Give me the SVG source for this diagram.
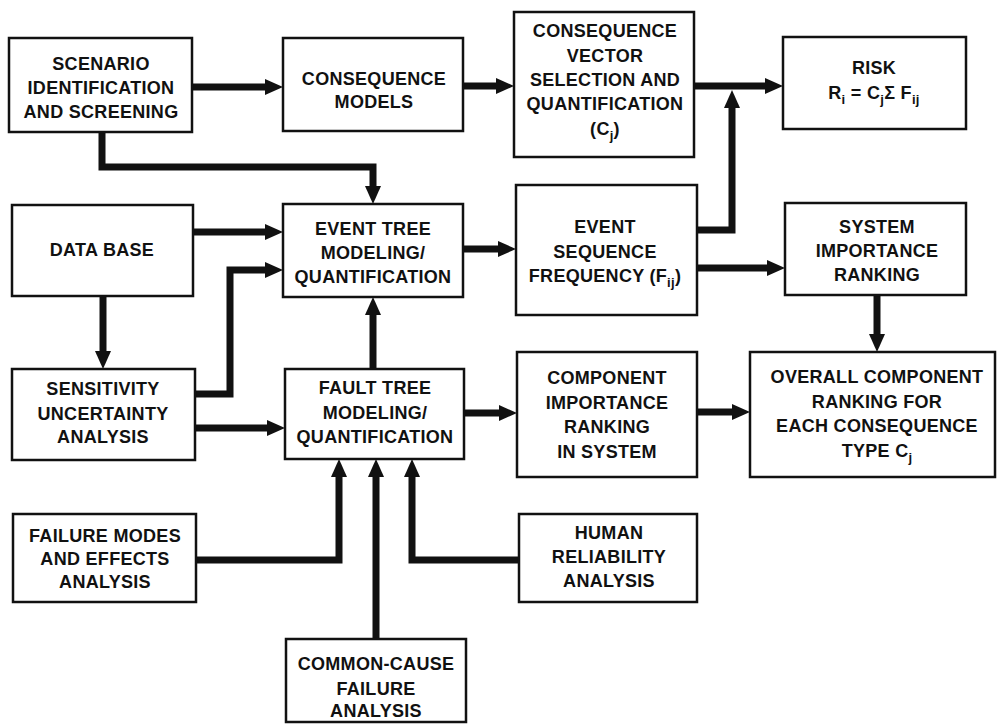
<svg xmlns="http://www.w3.org/2000/svg" width="997" height="724" viewBox="0 0 997 724">
<style>
.box{fill:#fff;stroke:#111;stroke-width:2.5}
.t{font-family:"Liberation Sans",Arial,sans-serif;font-weight:bold;font-size:18px;fill:#111;text-anchor:middle;letter-spacing:0.3px}
.sub{font-size:13px}
.c{fill:none;stroke:#111;stroke-width:7;stroke-linejoin:miter}
</style>
<defs>
<marker id="ah" markerUnits="userSpaceOnUse" markerWidth="20" markerHeight="18" refX="8" refY="8" orient="auto">
<path d="M0,0 L18,8 L0,16 Z" fill="#111"/>
</marker>
</defs>
<rect width="997" height="724" fill="#fff"/>
<g id="connectors">
<polyline class="c" points="192,87 273,87" marker-end="url(#ah)"/>
<polyline class="c" points="463,86 504,86" marker-end="url(#ah)"/>
<polyline class="c" points="694,86 773,86" marker-end="url(#ah)"/>
<polyline class="c" points="697,230 732,230 732,100" marker-end="url(#ah)"/>
<polyline class="c" points="102,132 102,167 373,167 373,194" marker-end="url(#ah)"/>
<polyline class="c" points="193,232 273,232" marker-end="url(#ah)"/>
<polyline class="c" points="195,394 230,394 230,270 273,270" marker-end="url(#ah)"/>
<polyline class="c" points="103,296 103,359" marker-end="url(#ah)"/>
<polyline class="c" points="195,428 275,428" marker-end="url(#ah)"/>
<polyline class="c" points="373,369 373,307" marker-end="url(#ah)"/>
<polyline class="c" points="463,249 506,249" marker-end="url(#ah)"/>
<polyline class="c" points="697,268 775,268" marker-end="url(#ah)"/>
<polyline class="c" points="877,295 877,342" marker-end="url(#ah)"/>
<polyline class="c" points="464,413 507,413" marker-end="url(#ah)"/>
<polyline class="c" points="697,412 740,412" marker-end="url(#ah)"/>
<polyline class="c" points="196,560 339,560 339,469" marker-end="url(#ah)"/>
<polyline class="c" points="376,639 376,469" marker-end="url(#ah)"/>
<polyline class="c" points="519,560 412,560 412,469" marker-end="url(#ah)"/>
</g>
<g id="scenario">
<rect class="box" x="9" y="38" width="183" height="94"/>
<text class="t" x="101" y="70">SCENARIO</text>
<text class="t" x="101" y="94">IDENTIFICATION</text>
<text class="t" x="101" y="118">AND SCREENING</text>
</g>
<g id="consequence-models">
<rect class="box" x="283" y="38" width="180" height="93"/>
<text class="t" x="374" y="85">CONSEQUENCE</text>
<text class="t" x="374" y="108">MODELS</text>
</g>
<g id="consequence-vector">
<rect class="box" x="514" y="12" width="180" height="145"/>
<text class="t" x="605" y="37">CONSEQUENCE</text>
<text class="t" x="605" y="62">VECTOR</text>
<text class="t" x="605" y="86">SELECTION AND</text>
<text class="t" x="605" y="110">QUANTIFICATION</text>
<text class="t" x="605" y="135">(C<tspan class="sub" dy="5">j</tspan><tspan dy="-5">)</tspan></text>
</g>
<g id="risk">
<rect class="box" x="783" y="37" width="183" height="92"/>
<text class="t" x="874" y="74">RISK</text>
<text class="t" x="874" y="99">R<tspan class="sub" dy="5">i</tspan><tspan dy="-5"> = C</tspan><tspan class="sub" dy="5">j</tspan><tspan dy="-5">Σ F</tspan><tspan class="sub" dy="5">ij</tspan></text>
</g>
<g id="data-base">
<rect class="box" x="12" y="205" width="181" height="91"/>
<text class="t" x="102" y="256">DATA BASE</text>
</g>
<g id="event-tree">
<rect class="box" x="283" y="204" width="180" height="93"/>
<text class="t" x="373" y="235">EVENT TREE</text>
<text class="t" x="373" y="259">MODELING/</text>
<text class="t" x="373" y="283">QUANTIFICATION</text>
</g>
<g id="event-sequence">
<rect class="box" x="516" y="185" width="181" height="130"/>
<text class="t" x="605" y="233">EVENT</text>
<text class="t" x="605" y="258">SEQUENCE</text>
<text class="t" x="605" y="282">FREQUENCY (F<tspan class="sub" dy="5">ij</tspan><tspan dy="-5">)</tspan></text>
</g>
<g id="system-importance">
<rect class="box" x="785" y="203" width="181" height="92"/>
<text class="t" x="877" y="233">SYSTEM</text>
<text class="t" x="877" y="257">IMPORTANCE</text>
<text class="t" x="877" y="281">RANKING</text>
</g>
<g id="sensitivity">
<rect class="box" x="12" y="369" width="183" height="91"/>
<text class="t" x="103" y="395">SENSITIVITY</text>
<text class="t" x="103" y="420">UNCERTAINTY</text>
<text class="t" x="103" y="443">ANALYSIS</text>
</g>
<g id="fault-tree">
<rect class="box" x="285" y="369" width="179" height="90"/>
<text class="t" x="375" y="394">FAULT TREE</text>
<text class="t" x="375" y="419">MODELING/</text>
<text class="t" x="375" y="443">QUANTIFICATION</text>
</g>
<g id="component-importance">
<rect class="box" x="517" y="352" width="180" height="125"/>
<text class="t" x="607" y="384">COMPONENT</text>
<text class="t" x="607" y="409">IMPORTANCE</text>
<text class="t" x="607" y="433">RANKING</text>
<text class="t" x="607" y="458">IN SYSTEM</text>
</g>
<g id="overall-ranking">
<rect class="box" x="750" y="352" width="245" height="125"/>
<text class="t" x="877" y="383">OVERALL COMPONENT</text>
<text class="t" x="877" y="408">RANKING FOR</text>
<text class="t" x="877" y="432">EACH CONSEQUENCE</text>
<text class="t" x="877" y="457">TYPE C<tspan class="sub" dy="5">j</tspan></text>
</g>
<g id="failure-modes">
<rect class="box" x="13" y="514" width="183" height="88"/>
<text class="t" x="105" y="542">FAILURE MODES</text>
<text class="t" x="105" y="565">AND EFFECTS</text>
<text class="t" x="105" y="588">ANALYSIS</text>
</g>
<g id="human-reliability">
<rect class="box" x="519" y="514" width="178" height="88"/>
<text class="t" x="609" y="539">HUMAN</text>
<text class="t" x="609" y="563">RELIABILITY</text>
<text class="t" x="609" y="587">ANALYSIS</text>
</g>
<g id="common-cause">
<rect class="box" x="286" y="639" width="180" height="83"/>
<text class="t" x="376" y="670">COMMON-CAUSE</text>
<text class="t" x="376" y="695">FAILURE</text>
<text class="t" x="376" y="717">ANALYSIS</text>
</g>
</svg>
